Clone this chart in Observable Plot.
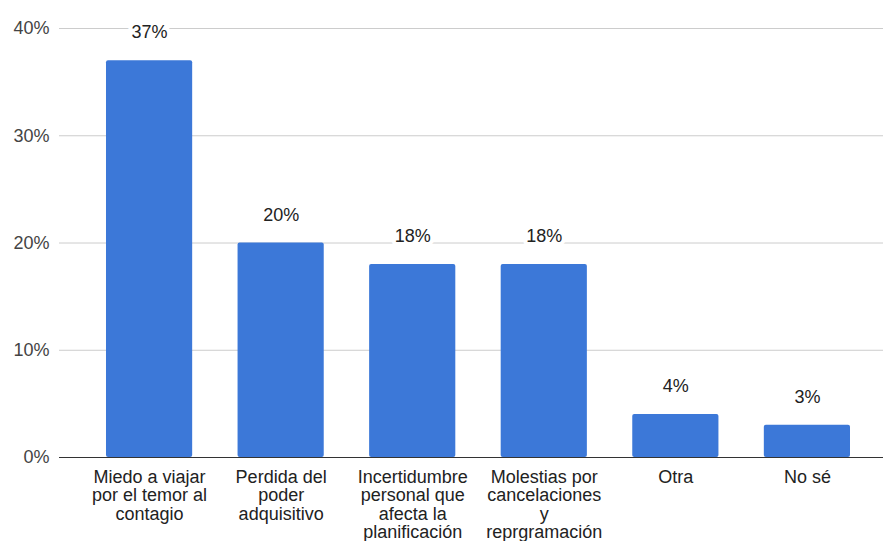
<!DOCTYPE html>
<html>
<head>
<meta charset="utf-8">
<script src="https://cdn.jsdelivr.net/npm/d3@7"></script>
<script src="https://cdn.jsdelivr.net/npm/@observablehq/plot@0.6"></script>
<style>
  html, body { margin: 0; padding: 0; background: #fff; }
  #chart svg { display: block; font-family: "Liberation Sans", Arial, sans-serif; }
</style>
</head>
<body>
<div id="chart"></div>
<script>
// Motivos por los que no se viaja (porcentaje de respuestas)
const categories = [
  "Miedo a viajar por el temor al contagio",
  "Perdida del poder adquisitivo",
  "Incertidumbre personal que afecta la planificación",
  "Molestias por cancelaciones y reprgramación",
  "Otra",
  "No sé"
];
const tickLabels = [
  "Miedo a viajar\npor el temor al\ncontagio",
  "Perdida del\npoder\nadquisitivo",
  "Incertidumbre\npersonal que\nafecta la\nplanificación",
  "Molestias por\ncancelaciones\ny\nreprgramación",
  "Otra",
  "No sé"
];
const values = [37, 20, 18, 18, 4, 3];
const yTicks = [0, 10, 20, 30, 40];

const data = categories.map((c, i) => ({category: c, value: values[i]}));
const labelOf = new Map(categories.map((c, i) => [c, tickLabels[i]]));

const chart = Plot.plot({
  width: 883,
  height: 541,
  marginTop: 28,
  marginBottom: 84,
  marginLeft: 59,
  marginRight: 0,
  style: {fontFamily: "'Liberation Sans', Arial, sans-serif", fontSize: "18px", color: "#444"},
  x: {domain: categories, paddingInner: 0.345, paddingOuter: 0.304, align: 0.5875, round: false, label: null},
  y: {domain: [0, 40], label: null},
  marks: [
    Plot.ruleY(yTicks.slice(1), {stroke: "#cccccc", strokeWidth: 1, strokeOpacity: 1}),
    Plot.barY(data, {x: "category", y: "value", fill: "#3c78d8", rx: 2}),
    Plot.ruleY([0], {stroke: "#333333", strokeWidth: 1.2}),
    Plot.text(data, {
      x: "category", y: "value", text: d => d.value + "%",
      dy: -28, fill: "#222", stroke: "white", strokeWidth: 8,
      fontSize: 18
    }),
    Plot.axisY({
      ticks: yTicks, tickFormat: d => d + "%", tickSize: 0, tickPadding: 10,
      fontSize: 18, fill: "#444", label: null
    }),
    Plot.axisX({
      tickFormat: d => labelOf.get(d), tickSize: 0, tickPadding: 12,
      fontSize: 18, fill: "#222", lineHeight: 1.03, label: null,
      textOverflow: null
    })
  ]
});
document.getElementById("chart").append(chart);
</script>
</body>
</html>
